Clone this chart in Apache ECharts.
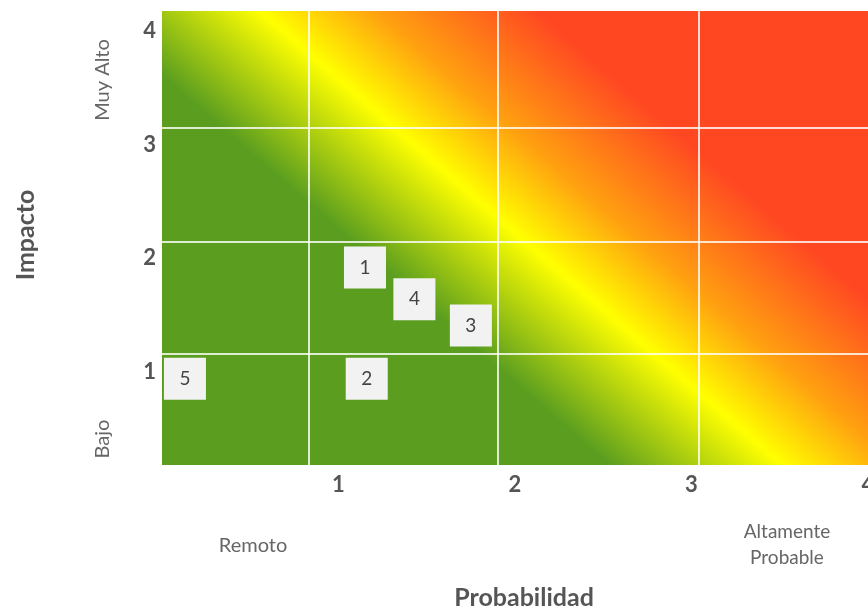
<!DOCTYPE html>
<html>
<head>
<meta charset="utf-8">
<script src="https://cdn.jsdelivr.net/npm/echarts@6/dist/echarts.min.js"></script>
<style>
html,body{margin:0;padding:0;background:#fff;}
#chart{width:868px;height:611px;}
</style>
</head>
<body>
<div id="chart"></div>
<script>
// Data
const riskIds = ['1', '2', '3', '4', '5'];
const probabilidad = [1.15, 1.16, 1.75, 1.43, 0.13];
const impacto = [1.74, 0.76, 1.23, 1.46, 0.76];
const xTickLabels = ['1', '2', '3', '4'];
const yTickLabels = ['1', '2', '3', '4'];
const xGridLines = [0.83, 1.9, 3.04];
const yGridLines = [0.98, 1.97, 2.97];

const chart = echarts.init(document.getElementById('chart'));
const FONT = 'Lato';

// diagonal risk gradient (pixel coords of the plot area)
const bg = new echarts.graphic.LinearGradient(162, 465, 691, -143, [
  { offset: 0, color: '#5b9e1f' },
  { offset: 0.365, color: '#5b9e1f' },
  { offset: 0.505, color: '#ffff00' },
  { offset: 0.6, color: '#ffa010' },
  { offset: 0.73, color: '#ff4822' },
  { offset: 1, color: '#ff4822' }
], true);

const points = riskIds.map((id, i) => ({ name: id, value: [probabilidad[i], impacto[i]] }));

chart.setOption({
  animation: false,
  grid: {
    left: 162, top: 11, right: 0, bottom: 146,
    containLabel: false, outerBoundsMode: 'none',
    show: true, backgroundColor: bg, borderWidth: 0
  },
  xAxis: {
    type: 'value', min: 0, max: 4, interval: 1,
    axisLine: { show: false }, axisTick: { show: false }, splitLine: { show: false },
    axisLabel: {
      margin: 9, color: '#555', fontFamily: FONT, fontWeight: 'bold', fontSize: 22,
      formatter: v => (v >= 1 ? xTickLabels[v - 1] : '')
    }
  },
  yAxis: {
    type: 'value', min: 0, max: 4, interval: 1,
    axisLine: { show: false }, axisTick: { show: false }, splitLine: { show: false },
    axisLabel: {
      margin: 6, color: '#555', fontFamily: FONT, fontWeight: 'bold', fontSize: 22,
      verticalAlign: 'top', lineHeight: 22, padding: [9, 0, 0, 0],
      formatter: v => (v >= 1 ? yTickLabels[v - 1] : '')
    }
  },
  graphic: [
    { type: 'text', x: 26, y: 235, rotation: Math.PI / 2, style: { text: 'Impacto', fill: '#555', font: 'bold 25px Lato', align: 'center', verticalAlign: 'middle' } },
    { type: 'text', x: 524, y: 598, style: { text: 'Probabilidad', fill: '#555', font: 'bold 25px Lato', align: 'center', verticalAlign: 'middle' } },
    { type: 'text', x: 103, y: 80, rotation: Math.PI / 2, style: { text: 'Muy Alto', fill: '#666', font: '20px Lato', align: 'center', verticalAlign: 'middle' } },
    { type: 'text', x: 103, y: 439, rotation: Math.PI / 2, style: { text: 'Bajo', fill: '#666', font: '20px Lato', align: 'center', verticalAlign: 'middle' } },
    { type: 'text', x: 253, y: 546, style: { text: 'Remoto', fill: '#666', font: '20px Lato', align: 'center', verticalAlign: 'middle' } },
    { type: 'text', x: 787, y: 545, style: { text: 'Altamente\nProbable', fill: '#666', font: '19px Lato', lineHeight: 26, align: 'center', verticalAlign: 'middle' } }
  ],
  series: [
    {
      type: 'scatter',
      symbol: 'rect',
      symbolSize: 42,
      data: points,
      itemStyle: { color: '#f2f2f2', opacity: 1 },
      label: { show: true, position: 'inside', formatter: p => p.name, color: '#444', fontFamily: FONT, fontSize: 19 },
      markLine: {
        silent: true, symbol: 'none', animation: false,
        label: { show: false },
        lineStyle: { color: 'rgba(255,255,255,0.8)', width: 2, type: 'solid' },
        data: xGridLines.map(v => ({ xAxis: v })).concat(yGridLines.map(v => ({ yAxis: v })))
      },
      z: 5
    }
  ]
});
</script>
</body>
</html>
